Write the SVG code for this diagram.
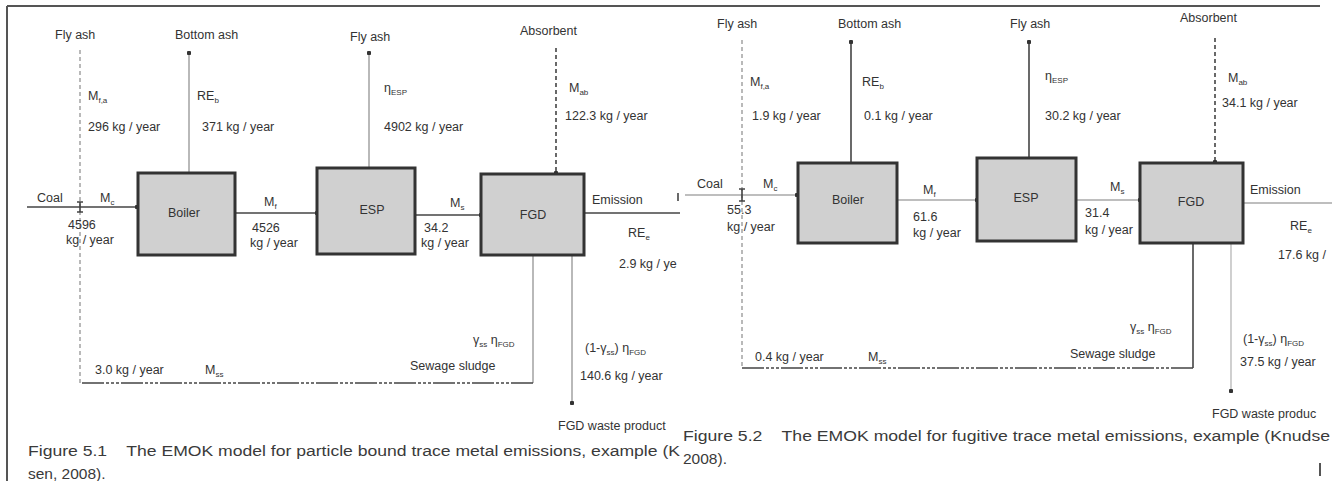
<svg xmlns="http://www.w3.org/2000/svg" width="1343" height="481" viewBox="0 0 1343 481">
<defs>
<style>
text{font-family:"Liberation Sans",Arial,sans-serif;fill:#333;font-size:12.5px}
.sub{font-size:8px}
.cap{font-size:15.5px;fill:#3a3a3a;white-space:pre}
.box{fill:#d0d0d0;stroke:#333;stroke-width:3}
.bl{font-size:12.5px;text-anchor:middle}
.dk{stroke:#444;stroke-width:1.6;fill:none}
.gr{stroke:#a8a8a8;stroke-width:1.6;fill:none}
.lg{stroke:#c4c4c4;stroke-width:1.6;fill:none}
.dash{stroke-dasharray:4 3}
.mix{stroke-dasharray:22 2 3 2 3 2 3 2}
.frame{stroke:#555;stroke-width:2;fill:none}
</style>
<marker id="dot" viewBox="0 0 6 6" refX="3" refY="3" markerWidth="4.5" markerHeight="4.5" markerUnits="userSpaceOnUse">
<circle cx="3" cy="3" r="3" fill="#333"/>
</marker>
</defs>
<rect width="1343" height="481" fill="#fff"/>
<g id="frame">
<path class="frame" d="M7 6H1320M7 6V481"/>
<path class="frame" d="M1320 463V476" stroke-width="1.5"/>
</g>
<g id="connectors">
<path class="gr dash" d="M80 50V383"/>
<path class="dk" d="M27 207H137" marker-end="url(#dot)"/>
<path class="dk" d="M80 202V212M77 202H83M77 212H83"/>
<path class="gr" d="M189 173V53" marker-end="url(#dot)"/>
<path class="dk" d="M235 213H317" marker-end="url(#dot)"/>
<path class="gr" d="M369 168V53" marker-end="url(#dot)"/>
<path class="dk dash" d="M556 48V173" marker-end="url(#dot)"/>
<path class="dk" d="M415 215H481" marker-end="url(#dot)"/>
<path class="dk" d="M584 213H680" stroke="#555"/>
<path class="dk" d="M678 193V201"/>
<path class="gr" d="M533 255V383"/>
<path class="dk mix" d="M533 383H80"/>
<path class="gr" d="M572 255V403" marker-end="url(#dot)"/>
<path class="gr dash" d="M742 40V368"/>
<path class="gr" d="M685 195H797" marker-end="url(#dot)"/>
<path class="dk" d="M742 189V201M739 189H745M739 201H745"/>
<path class="dk" d="M851 163V42" marker-end="url(#dot)"/>
<path class="gr" d="M897 200H977" marker-end="url(#dot)"/>
<path class="dk" d="M1029 157V42" marker-end="url(#dot)"/>
<path class="gr" d="M1076 200H1140" marker-end="url(#dot)"/>
<path class="dk dash" d="M1215 38V162" marker-end="url(#dot)"/>
<path class="gr" d="M1243 203H1332"/>
<path class="dk" d="M1193 243V368"/>
<path class="dk mix" d="M1193 368H742"/>
<path class="lg" d="M1231 243V391" marker-end="url(#dot)"/>
</g>
<g id="boiler1"><rect class="box" x="138" y="173" width="97" height="82"/><text class="bl" x="184" y="217">Boiler</text></g>
<g id="esp1"><rect class="box" x="317" y="168" width="98" height="86"/><text class="bl" x="372" y="214">ESP</text></g>
<g id="fgd1"><rect class="box" x="481" y="174" width="103" height="81"/><text class="bl" x="533" y="219">FGD</text></g>
<g id="boiler2"><rect class="box" x="798" y="163" width="99" height="80"/><text class="bl" x="848" y="204">Boiler</text></g>
<g id="esp2"><rect class="box" x="977" y="158" width="99" height="83"/><text class="bl" x="1026" y="202">ESP</text></g>
<g id="fgd2"><rect class="box" x="1140" y="163" width="103" height="80"/><text class="bl" x="1191" y="206">FGD</text></g>
<g id="labels1">
<text x="55" y="39">Fly ash</text>
<text x="175" y="39">Bottom ash</text>
<text x="88" y="100">M<tspan class="sub" dy="3">f,a</tspan></text>
<text x="88" y="131">296 kg / year</text>
<text x="197" y="100">RE<tspan class="sub" dy="3">b</tspan></text>
<text x="202" y="131">371 kg / year</text>
<text x="37" y="202">Coal</text>
<text x="100" y="202">M<tspan class="sub" dy="3">c</tspan></text>
<text x="68" y="229">4596</text>
<text x="66" y="244">kg / year</text>
<text x="264" y="206">M<tspan class="sub" dy="3">f</tspan></text>
<text x="252" y="232">4526</text>
<text x="250" y="247">kg / year</text>
<text x="350" y="41">Fly ash</text>
<text x="384" y="92">η<tspan class="sub" dy="3">ESP</tspan></text>
<text x="384" y="131">4902 kg / year</text>
<text x="520" y="35">Absorbent</text>
<text x="569" y="92">M<tspan class="sub" dy="3">ab</tspan></text>
<text x="565" y="120">122.3 kg / year</text>
<text x="450" y="207">M<tspan class="sub" dy="3">s</tspan></text>
<text x="424" y="232">34.2</text>
<text x="421" y="247">kg / year</text>
<text x="592" y="204">Emission</text>
<text x="628" y="237">RE<tspan class="sub" dy="3">e</tspan></text>
<text x="619" y="268">2.9 kg / ye</text>
<text x="473" y="344">γ<tspan class="sub" dy="3">ss</tspan><tspan dy="-3"> η</tspan><tspan class="sub" dy="3">FGD</tspan></text>
<text x="410" y="370">Sewage sludge</text>
<text x="585" y="352">(1-γ<tspan class="sub" dy="3">ss</tspan><tspan dy="-3">) η</tspan><tspan class="sub" dy="3">FGD</tspan></text>
<text x="580" y="380">140.6 kg / year</text>
<text x="558" y="430">FGD waste product</text>
<text x="95" y="374">3.0 kg / year</text>
<text x="205" y="374">M<tspan class="sub" dy="3">ss</tspan></text>
<text class="cap" x="28" y="456" textLength="652" lengthAdjust="spacingAndGlyphs">Figure 5.1    The EMOK model for particle bound trace metal emissions, example (K</text>
<text class="cap" x="28" y="479">sen, 2008).</text>
</g>
<g id="labels2">
<text x="717" y="28">Fly ash</text>
<text x="838" y="28">Bottom ash</text>
<text x="1010" y="28">Fly ash</text>
<text x="1180" y="22">Absorbent</text>
<text x="750" y="86">M<tspan class="sub" dy="3">f,a</tspan></text>
<text x="752" y="120">1.9 kg / year</text>
<text x="862" y="86">RE<tspan class="sub" dy="3">b</tspan></text>
<text x="864" y="120">0.1 kg / year</text>
<text x="1045" y="80">η<tspan class="sub" dy="3">ESP</tspan></text>
<text x="1045" y="120">30.2 kg / year</text>
<text x="1228" y="82">M<tspan class="sub" dy="3">ab</tspan></text>
<text x="1222" y="107">34.1 kg / year</text>
<text x="697" y="188">Coal</text>
<text x="763" y="188">M<tspan class="sub" dy="3">c</tspan></text>
<text x="727" y="214">55.3</text>
<text x="727" y="231">kg / year</text>
<text x="923" y="194">M<tspan class="sub" dy="3">f</tspan></text>
<text x="913" y="221">61.6</text>
<text x="913" y="237">kg / year</text>
<text x="1110" y="191">M<tspan class="sub" dy="3">s</tspan></text>
<text x="1085" y="217">31.4</text>
<text x="1085" y="234">kg / year</text>
<text x="1250" y="194">Emission</text>
<text x="1290" y="230">RE<tspan class="sub" dy="3">e</tspan></text>
<text x="1278" y="259">17.6 kg /</text>
<text x="1130" y="331">γ<tspan class="sub" dy="3">ss</tspan><tspan dy="-3"> η</tspan><tspan class="sub" dy="3">FGD</tspan></text>
<text x="1070" y="358">Sewage sludge</text>
<text x="1243" y="343">(1-γ<tspan class="sub" dy="3">ss</tspan><tspan dy="-3">) η</tspan><tspan class="sub" dy="3">FGD</tspan></text>
<text x="1240" y="366">37.5 kg / year</text>
<text x="1212" y="418">FGD waste produc</text>
<text x="755" y="361">0.4 kg / year</text>
<text x="868" y="361">M<tspan class="sub" dy="3">ss</tspan></text>
<text class="cap" x="683" y="441" textLength="647" lengthAdjust="spacingAndGlyphs">Figure 5.2    The EMOK model for fugitive trace metal emissions, example (Knudse</text>
<text class="cap" x="683" y="464">2008).</text>
</g>
</svg>
